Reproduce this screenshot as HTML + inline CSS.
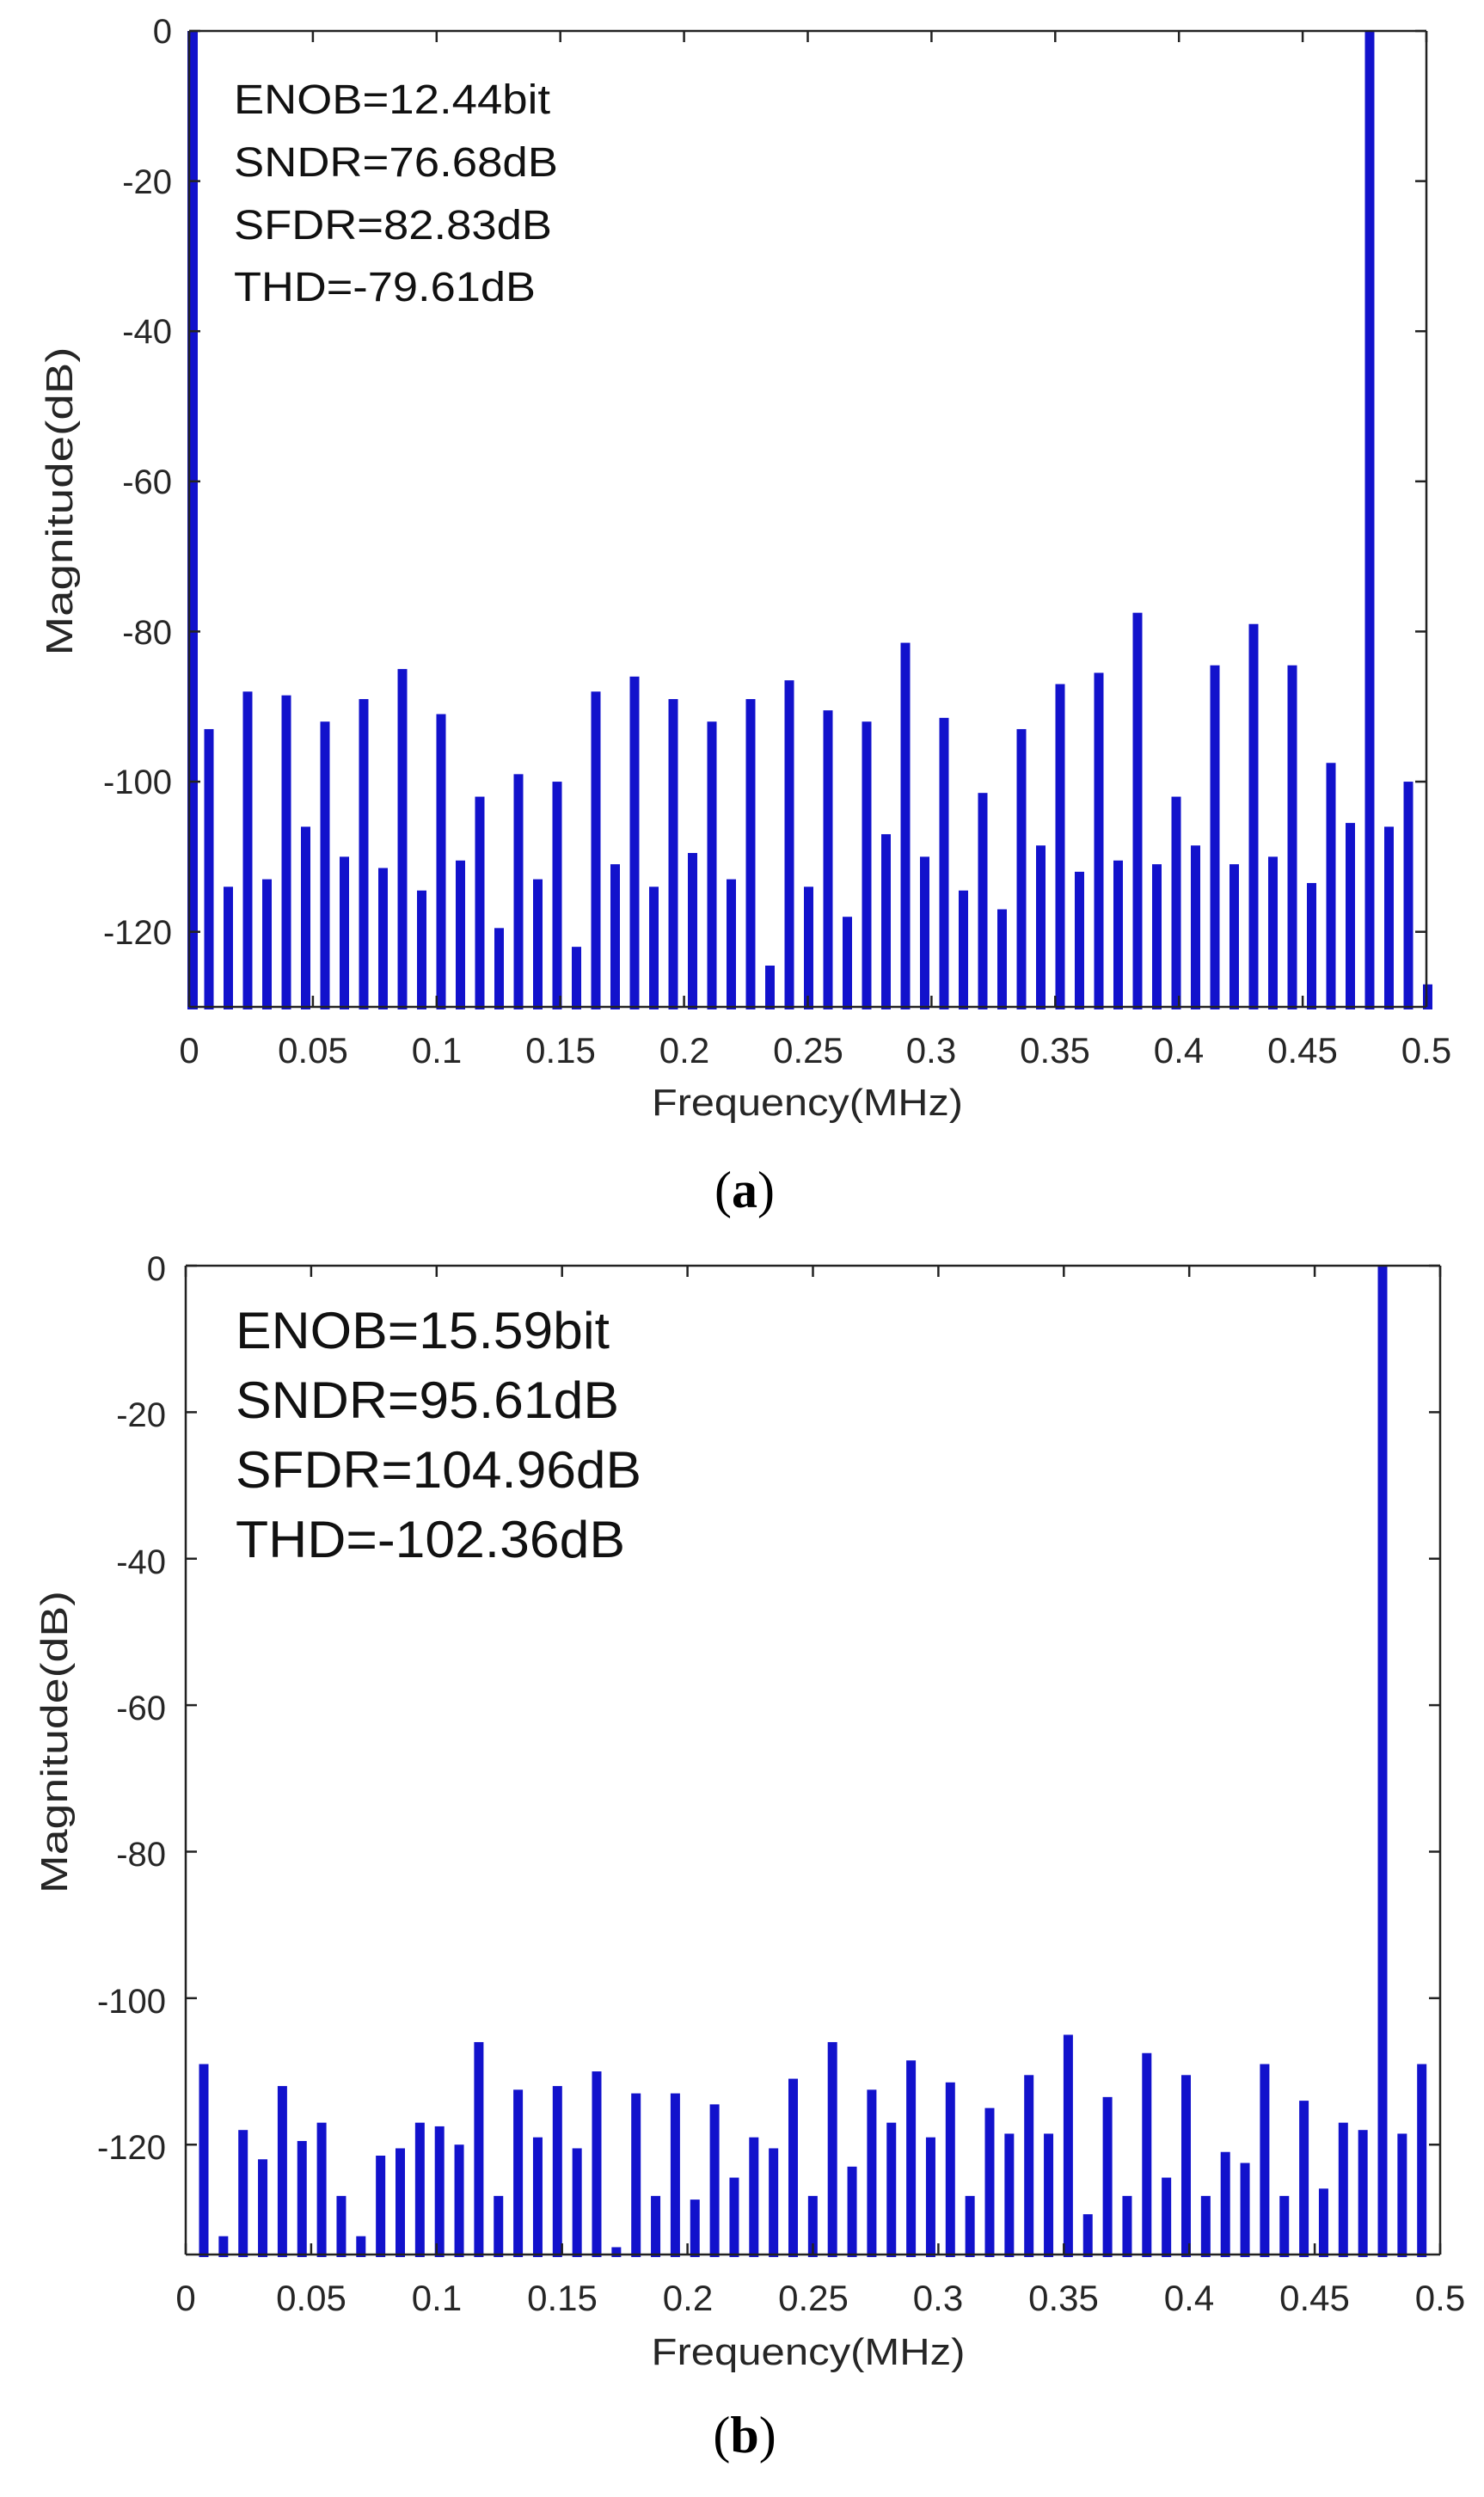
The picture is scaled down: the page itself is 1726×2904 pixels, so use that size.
<!DOCTYPE html>
<html><head><meta charset="utf-8"><style>
html,body{margin:0;padding:0;background:#fff;}
svg{display:block;}
</style></head><body>
<svg id="s" width="1726" height="2904" viewBox="0 0 1726 2904" xmlns="http://www.w3.org/2000/svg">
<rect width="1726" height="2904" fill="#fff"/>
<g id="bars" fill="#1212cc"></g>
<g id="axes" stroke="#222" fill="none" stroke-width="2.5"></g>
<g font-family="Liberation Sans, sans-serif" fill="#262626" font-size="40">
  <g text-anchor="end">
    <text x="200" y="50">0</text>
    <text x="200" y="225">-20</text>
    <text x="200" y="399">-40</text>
    <text x="200" y="574">-60</text>
    <text x="200" y="749">-80</text>
    <text x="200" y="923">-100</text>
    <text x="200" y="1098">-120</text>
  </g>
  <g text-anchor="middle" font-size="42">
    <text x="220" y="1236">0</text>
    <text x="364" y="1236">0.05</text>
    <text x="508" y="1236">0.1</text>
    <text x="652" y="1236">0.15</text>
    <text x="796" y="1236">0.2</text>
    <text x="940" y="1236">0.25</text>
    <text x="1083" y="1236">0.3</text>
    <text x="1227" y="1236">0.35</text>
    <text x="1371" y="1236">0.4</text>
    <text x="1515" y="1236">0.45</text>
    <text x="1659" y="1236">0.5</text>
  </g>
  <text x="939" y="1297" text-anchor="middle" font-size="44" textLength="362" lengthAdjust="spacingAndGlyphs">Frequency(MHz)</text>
  <text transform="translate(84,583) rotate(-90)" text-anchor="middle" font-size="44" textLength="359" lengthAdjust="spacingAndGlyphs">Magnitude(dB)</text>

  <g text-anchor="end">
    <text x="193" y="1489">0</text>
    <text x="193" y="1659">-20</text>
    <text x="193" y="1830">-40</text>
    <text x="193" y="2000">-60</text>
    <text x="193" y="2170">-80</text>
    <text x="193" y="2341">-100</text>
    <text x="193" y="2511">-120</text>
  </g>
  <g text-anchor="middle" font-size="42">
    <text x="216" y="2687">0</text>
    <text x="362" y="2687">0.05</text>
    <text x="508" y="2687">0.1</text>
    <text x="654" y="2687">0.15</text>
    <text x="800" y="2687">0.2</text>
    <text x="946" y="2687">0.25</text>
    <text x="1091" y="2687">0.3</text>
    <text x="1237" y="2687">0.35</text>
    <text x="1383" y="2687">0.4</text>
    <text x="1529" y="2687">0.45</text>
    <text x="1675" y="2687">0.5</text>
  </g>
  <text x="940" y="2750" text-anchor="middle" font-size="44" textLength="365" lengthAdjust="spacingAndGlyphs">Frequency(MHz)</text>
  <text transform="translate(78,2026) rotate(-90)" text-anchor="middle" font-size="44" textLength="352" lengthAdjust="spacingAndGlyphs">Magnitude(dB)</text>
</g>
<g font-family="Liberation Sans, sans-serif" fill="#111">
  <text x="272" y="132" font-size="48" textLength="368" lengthAdjust="spacingAndGlyphs">ENOB=12.44bit</text>
  <text x="272" y="205" font-size="48" textLength="377" lengthAdjust="spacingAndGlyphs">SNDR=76.68dB</text>
  <text x="272" y="278" font-size="48" textLength="370" lengthAdjust="spacingAndGlyphs">SFDR=82.83dB</text>
  <text x="272" y="350" font-size="48" textLength="351" lengthAdjust="spacingAndGlyphs">THD=-79.61dB</text>

  <text x="274" y="1568" font-size="60" textLength="435" lengthAdjust="spacingAndGlyphs">ENOB=15.59bit</text>
  <text x="274" y="1649" font-size="60" textLength="446" lengthAdjust="spacingAndGlyphs">SNDR=95.61dB</text>
  <text x="274" y="1730" font-size="60" textLength="472" lengthAdjust="spacingAndGlyphs">SFDR=104.96dB</text>
  <text x="274" y="1811" font-size="60" textLength="453" lengthAdjust="spacingAndGlyphs">THD=-102.36dB</text>
</g>
<g font-family="Liberation Serif, serif" font-size="60" fill="#000" text-anchor="middle">
  <text x="866" y="1404">(<tspan font-weight="bold">a</tspan>)</text>
  <text x="866" y="2852">(<tspan font-weight="bold">b</tspan>)</text>
</g>
</svg>
<script>
(function(){
var NS="http://www.w3.org/2000/svg";
var bars=document.getElementById('bars'), axes=document.getElementById('axes');
function rect(x,y,w,h){var r=document.createElementNS(NS,'rect');r.setAttribute('x',x);r.setAttribute('y',y);r.setAttribute('width',w);r.setAttribute('height',h);bars.appendChild(r);}
function line(x1,y1,x2,y2){var l=document.createElementNS(NS,'line');l.setAttribute('x1',x1);l.setAttribute('y1',y1);l.setAttribute('x2',x2);l.setAttribute('y2',y2);axes.appendChild(l);}
function chart(c){
  var L=c.L,R=c.R,T=c.T,B=c.B;
  line(L,T,R,T);line(L,B,R,B);line(L,T,L,B);line(R,T,R,B);
  for(var i=0;i<=10;i++){var x=L+(R-L)*i/10;line(x,T,x,T+13);line(x,B,x,B-13);}
  for(var k=0;k<=6;k++){var y=T+k*20*c.py;line(L,y,L+13,y);line(R,y,R-13,y);}
  c.vals.forEach(function(v,i){
    var x=c.x0+i*c.d; var y=T+(-v)*c.py; if(y<T)y=T;
    rect(x-5.5,y,11,B+3-y);
  });
  if(c.zero) rect(L-2,T,12,B-T+3);
}
chart({L:220,R:1659,T:36,B:1171,py:(1171-36)/130,x0:243,d:22.5,zero:true,
vals:[-93,-114,-88,-113,-88.5,-106,-92,-110,-89,-111.5,-85,-114.5,-91,-110.5,-102,-119.5,-99,-113,-100,-122,
-88,-111,-86,-114,-89,-109.5,-92,-113,-89,-124.5,-86.5,-114,-90.5,-118,-92,-107,-81.5,-110,-91.5,-114.5,
-101.5,-117,-93,-108.5,-87,-112,-85.5,-110.5,-77.5,-111,-102,-108.5,-84.5,-111,-79,-110,-84.5,-113.5,-97.5,-105.5,
0,-106,-100,-127]});
chart({L:216,R:1675,T:1472,B:2622,py:(2622-1472)/135,x0:237,d:22.85,zero:false,
vals:[-109,-132.5,-118,-122,-112,-119.5,-117,-127,-132.5,-121.5,-120.5,-117,-117.5,-120,-106,-127,-112.5,-119,-112,-120.5,
-110,-134,-113,-127,-113,-127.5,-114.5,-124.5,-119,-120.5,-111,-127,-106,-123,-112.5,-117,-108.5,-119,-111.5,-127,
-115,-118.5,-110.5,-118.5,-105,-129.5,-113.5,-127,-107.5,-124.5,-110.5,-127,-121,-122.5,-109,-127,-114,-126,-117,-118,
0,-118.5,-109]});
})();
</script>
</body></html>
